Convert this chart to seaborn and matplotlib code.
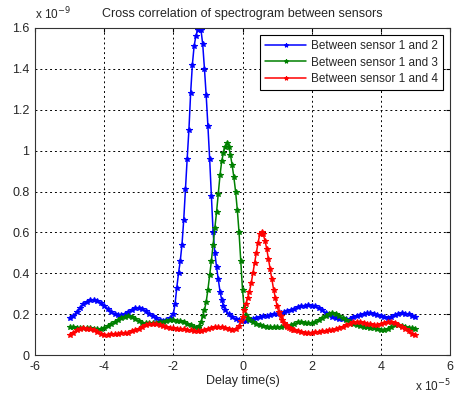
import numpy as np
import pandas as pd
import matplotlib
matplotlib.use("Agg")
import matplotlib.pyplot as plt
import seaborn as sns

# ---------------- data (y in units of 1e-9, x in units of 1e-5) ----------------
blue_x = [-5.0, -4.9, -4.8, -4.7, -4.6, -4.5, -4.4, -4.3, -4.2, -4.1, -4.0, -3.9, -3.8, -3.7, -3.6,
          -3.5, -3.4, -3.3, -3.2, -3.1, -3.0, -2.9, -2.8, -2.7, -2.6, -2.5, -2.4, -2.3, -2.2, -2.1,
          -2.0, -1.95, -1.9, -1.85, -1.8, -1.75, -1.7, -1.65, -1.6, -1.55, -1.5, -1.45, -1.4, -1.35,
          -1.3, -1.25, -1.2, -1.15, -1.1, -1.05, -1.0, -0.95, -0.9, -0.85, -0.8, -0.75, -0.7, -0.65,
          -0.6, -0.55, -0.5, -0.4, -0.3, -0.2, -0.1, 0.0, 0.1, 0.2, 0.3, 0.4, 0.5, 0.6, 0.7, 0.8, 0.9,
          1.0, 1.1, 1.2, 1.3, 1.4, 1.5, 1.6, 1.7, 1.8, 1.9, 2.0, 2.1, 2.2, 2.3, 2.4, 2.5, 2.6, 2.7,
          2.8, 2.9, 3.0, 3.1, 3.2, 3.3, 3.4, 3.5, 3.6, 3.7, 3.8, 3.9, 4.0, 4.1, 4.2, 4.3, 4.4, 4.5,
          4.6, 4.7, 4.8, 4.9, 5.0]
blue_y = [0.18, 0.19, 0.21, 0.23, 0.25, 0.26, 0.27, 0.27, 0.265, 0.255, 0.24, 0.225, 0.21, 0.2, 0.195,
          0.195, 0.2, 0.21, 0.22, 0.23, 0.23, 0.225, 0.215, 0.2, 0.19, 0.18, 0.17, 0.165, 0.17, 0.18,
          0.2, 0.25, 0.33, 0.40, 0.46, 0.54, 0.66, 0.81, 0.96, 1.1, 1.28, 1.42, 1.51, 1.56,
          1.59, 1.6, 1.59, 1.52, 1.4, 1.27, 1.12, 0.96, 0.78, 0.6, 0.5, 0.43, 0.37, 0.31,
          0.27, 0.24, 0.22, 0.2, 0.185, 0.175, 0.17, 0.165, 0.165, 0.17, 0.175, 0.18, 0.185, 0.19, 0.19, 0.195, 0.2,
          0.2, 0.205, 0.21, 0.215, 0.22, 0.225, 0.235, 0.24, 0.242, 0.243, 0.242, 0.238, 0.23, 0.22, 0.205, 0.195, 0.185, 0.18,
          0.175, 0.175, 0.175, 0.178, 0.185, 0.19, 0.197, 0.202, 0.205, 0.205, 0.2, 0.195, 0.19, 0.185, 0.183, 0.187, 0.195, 0.203,
          0.205, 0.203, 0.2, 0.193, 0.185]

green_x = [-5.0, -4.9, -4.8, -4.7, -4.6, -4.5, -4.4, -4.3, -4.2, -4.1, -4.0, -3.9, -3.8, -3.7, -3.6,
           -3.5, -3.4, -3.3, -3.2, -3.1, -3.0, -2.9, -2.8, -2.7, -2.6, -2.5, -2.4, -2.3, -2.2, -2.1,
           -2.0, -1.9, -1.8, -1.7, -1.6, -1.5, -1.4, -1.3,
           -1.25, -1.2, -1.15, -1.1, -1.05, -1.0, -0.95, -0.9, -0.85, -0.8, -0.75, -0.7, -0.65, -0.6,
           -0.55, -0.5, -0.45, -0.4, -0.35, -0.3, -0.25, -0.2, -0.15, -0.1, -0.05, 0.0, 0.05, 0.1,
           0.15, 0.2, 0.3, 0.4, 0.5, 0.6, 0.7, 0.8, 0.9, 1.0, 1.1, 1.2, 1.3, 1.4, 1.5, 1.6, 1.7,
           1.8, 1.9, 2.0, 2.1, 2.2, 2.3, 2.4, 2.5, 2.6, 2.7, 2.8, 2.9, 3.0, 3.1, 3.2, 3.3, 3.4, 3.5,
           3.6, 3.7, 3.8, 3.9, 4.0, 4.1, 4.2, 4.3, 4.4, 4.5, 4.6, 4.7, 4.8, 4.9, 5.0]
green_y = [0.135, 0.135, 0.132, 0.13, 0.13, 0.13, 0.13, 0.128, 0.125, 0.125, 0.13, 0.14, 0.15, 0.16, 0.17,
           0.18, 0.185, 0.19, 0.185, 0.175, 0.165, 0.158, 0.155, 0.155, 0.155, 0.157, 0.16, 0.163, 0.167, 0.17,
           0.17, 0.168, 0.165, 0.16, 0.152, 0.145, 0.137, 0.133,
           0.14, 0.16, 0.19, 0.22, 0.26, 0.32, 0.39, 0.46, 0.54, 0.62, 0.7, 0.79, 0.88, 0.95,
           0.99, 1.02, 1.035, 1.02, 0.98, 0.93, 0.87, 0.8, 0.71, 0.6, 0.46, 0.32, 0.23, 0.195,
           0.18, 0.17, 0.16, 0.15, 0.145, 0.14, 0.137, 0.135, 0.135, 0.135, 0.138, 0.14, 0.143, 0.147, 0.15, 0.16, 0.16,
           0.157, 0.155, 0.155, 0.16, 0.17, 0.18, 0.19, 0.2, 0.205, 0.2, 0.19, 0.18, 0.17, 0.16, 0.153, 0.147, 0.14, 0.137,
           0.135, 0.133, 0.13, 0.125, 0.122, 0.123, 0.128, 0.135, 0.145, 0.145, 0.14, 0.135, 0.133, 0.13, 0.128]

red_x = [-5.0, -4.9, -4.8, -4.7, -4.6, -4.5, -4.4, -4.3, -4.2, -4.1, -4.0, -3.9, -3.8, -3.7, -3.6,
         -3.5, -3.4, -3.3, -3.2, -3.1, -3.0, -2.9, -2.8, -2.7, -2.6, -2.5, -2.4, -2.3, -2.2, -2.1,
         -2.0, -1.9, -1.8, -1.7, -1.6, -1.5, -1.4, -1.3, -1.2, -1.1, -1.0, -0.9, -0.8, -0.7, -0.6,
         -0.5, -0.4, -0.3, -0.2, -0.1,
         -0.05, 0.0, 0.05, 0.1, 0.15, 0.2, 0.25, 0.3, 0.35, 0.4, 0.45, 0.5, 0.55, 0.6, 0.65, 0.7,
         0.75, 0.8, 0.85, 0.9, 0.95, 1.0, 1.05, 1.1, 1.15, 1.2, 1.25, 1.3, 1.35, 1.4, 1.45, 1.5,
         1.6, 1.7, 1.8, 1.9, 2.0, 2.1, 2.2, 2.3, 2.4, 2.5, 2.6, 2.7, 2.8, 2.9, 3.0, 3.1, 3.2, 3.3,
         3.4, 3.5, 3.6, 3.7, 3.8, 3.9, 4.0, 4.1, 4.2, 4.3, 4.4, 4.5, 4.6, 4.7, 4.8, 4.9, 5.0]
red_y = [0.1, 0.11, 0.12, 0.128, 0.13, 0.128, 0.125, 0.12, 0.112, 0.105, 0.1, 0.1, 0.102, 0.104, 0.105,
         0.106, 0.107, 0.11, 0.115, 0.12, 0.128, 0.137, 0.145, 0.15, 0.153, 0.152, 0.148, 0.143, 0.138, 0.133,
         0.13, 0.128, 0.127, 0.125, 0.123, 0.12, 0.117, 0.115, 0.115, 0.12, 0.125, 0.13, 0.135, 0.138, 0.137,
         0.133, 0.128, 0.123, 0.128, 0.14,
         0.165, 0.185, 0.22, 0.25, 0.28, 0.31, 0.35, 0.40, 0.45, 0.50, 0.55, 0.59, 0.603, 0.59, 0.56, 0.52,
         0.47, 0.42, 0.37, 0.32, 0.28, 0.24, 0.21, 0.19, 0.17, 0.155, 0.145, 0.135, 0.13, 0.125, 0.122, 0.12,
         0.117, 0.113, 0.11, 0.11, 0.11, 0.112, 0.114, 0.116, 0.118, 0.12, 0.123, 0.127, 0.132, 0.138, 0.145, 0.153, 0.16, 0.163,
         0.16, 0.157, 0.153, 0.15, 0.147, 0.147, 0.15, 0.155, 0.16, 0.16, 0.155, 0.145, 0.135, 0.125, 0.115, 0.105, 0.098]

labels = ["Between sensor 1 and 2", "Between sensor 1 and 3", "Between sensor 1 and 4"]
colors = ["#0000ff", "#008000", "#ff0000"]
x_ticks = [-6, -4, -2, 0, 2, 4, 6]
y_ticks = [0, 0.2, 0.4, 0.6, 0.8, 1.0, 1.2, 1.4, 1.6]
y_tick_labels = ["0", "0.2", "0.4", "0.6", "0.8", "1", "1.2", "1.4", "1.6"]

df = pd.concat([
    pd.DataFrame({"x": blue_x, "y": blue_y, "series": labels[0]}),
    pd.DataFrame({"x": green_x, "y": green_y, "series": labels[1]}),
    pd.DataFrame({"x": red_x, "y": red_y, "series": labels[2]}),
], ignore_index=True)

sns.set_style("white")
plt.rcParams["font.family"] = ["Liberation Sans", "DejaVu Sans"]
plt.rcParams["xtick.direction"] = "in"
plt.rcParams["ytick.direction"] = "in"

fig = plt.figure(figsize=(4.55, 3.95), dpi=100)
ax = fig.add_axes([35 / 455, 1 - 355 / 395, (450 - 35) / 455, (355 - 28) / 395])

sns.lineplot(data=df, x="x", y="y", hue="series", hue_order=labels, palette=colors,
             estimator=None, sort=True, marker="*", markersize=3.8, markeredgewidth=0.8,
             linewidth=1.1, ax=ax, legend=True)
for ln in ax.lines:
    c = ln.get_color()
    ln.set_markeredgecolor(c)
    ln.set_markerfacecolor(c)

ax.set_xlim(-6, 6)
ax.set_ylim(0, 1.6)
ax.set_xticks(x_ticks)
ax.set_xticklabels([str(t) for t in x_ticks])
ax.set_yticks(y_ticks)
ax.set_yticklabels(y_tick_labels)
ax.tick_params(labelsize=9, length=3, color="black", top=True, right=True, pad=4)
ax.grid(True, color="black", linestyle=(0, (2, 3)), linewidth=0.7)
for s in ax.spines.values():
    s.set_color("#333333")
    s.set_linewidth(0.8)

ax.set_xlabel("Delay time(s)", fontsize=9, labelpad=2)
ax.set_ylabel("")
ax.set_title("Cross correlation of spectrogram between sensors", fontsize=9, pad=8)

fig.text(35 / 455, 1 - 14 / 395, r"x 10$^{-9}$", fontsize=8.5, ha="left", va="center")
fig.text(415 / 455, 1 - 386 / 395, r"x 10$^{-5}$", fontsize=8.5, ha="left", va="center")

leg = ax.legend(loc="upper right", fontsize=8.5, frameon=True, fancybox=False, edgecolor="black",
                framealpha=1, borderaxespad=0.6, handlelength=3.5, labelspacing=0.4,
                borderpad=0.4, handletextpad=0.4)
leg.get_frame().set_linewidth(0.8)
for h in leg.get_lines():
    c = h.get_color()
    h.set_markeredgecolor(c)
    h.set_markerfacecolor(c)
    h.set_markersize(3)

fig.savefig("out.png", dpi=100)
